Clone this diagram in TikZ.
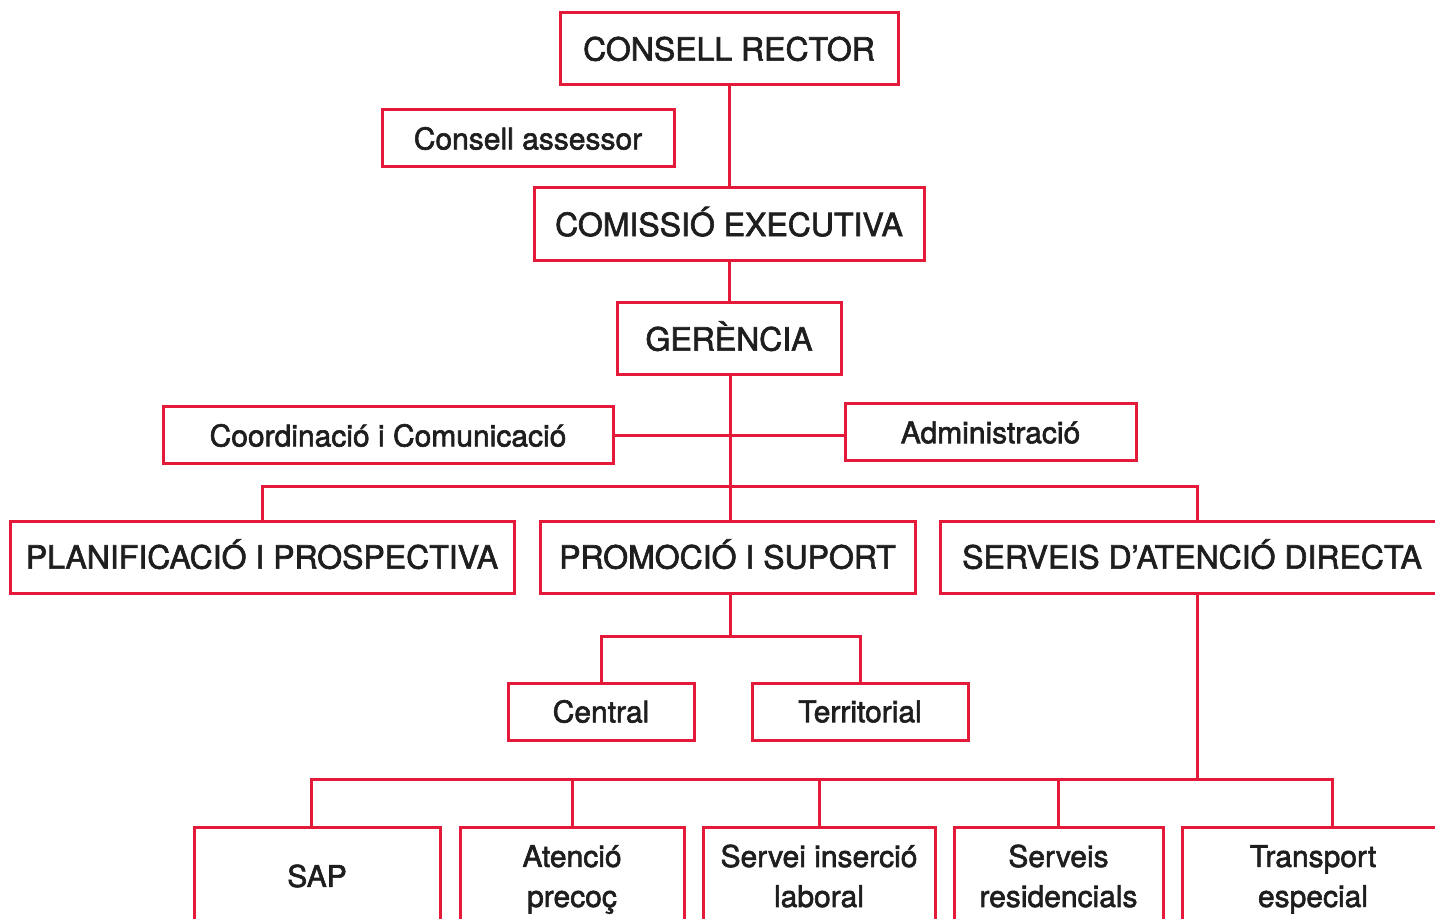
\documentclass[tikz,border=0pt]{standalone}
\usepackage{fontspec}
\setmainfont{TeX Gyre Heros}[FakeBold=2]
\definecolor{orgred}{RGB}{228,26,58}
\definecolor{orgtext}{RGB}{30,30,30}
\newcommand{\nodesc}[1]{\raisebox{0pt}[\height][0pt]{#1}}
\begin{document}
\begin{tikzpicture}[x=0.5pt,y=-0.5pt,
  orgbox/.style={draw=orgred,line width=1.5pt,fill=white,inner sep=0pt,text=orgtext,align=center},
  bigtxt/.style={font=\fontsize{16}{19}\selectfont,text height=11.6pt,text depth=0pt},
  smalltxt/.style={font=\fontsize{15}{20}\selectfont},
  link/.style={draw=orgred,line width=1.5pt}]
\useasboundingbox (0,0) rectangle (1435,919);
\coordinate (bus1) at (730,487);
\coordinate (pbus) at (730,636);
\coordinate (sbus) at (1197,779);
\node[orgbox,bigtxt,minimum width=169pt,minimum height=36pt] (rector) at (729,49) {CONSELL RECTOR};
\node[orgbox,smalltxt,minimum width=146pt,minimum height=28.5pt] (assessor) at (528,138.5) {Consell assessor};
\node[orgbox,bigtxt,minimum width=195pt,minimum height=36.5pt] (comissio) at (729,224.5) {COMISSIÓ EXECUTIVA};
\node[orgbox,bigtxt,minimum width=112pt,minimum height=36pt] (gerencia) at (729,339) {GERÈNCIA};
\node[orgbox,smalltxt,minimum width=225pt,minimum height=28.5pt] (coord) at (388,435.5) {Coordinació i Comunicació};
\node[orgbox,smalltxt,minimum width=145.5pt,minimum height=28.5pt] (admin) at (990.5,432.5) {Administració};
\node[orgbox,bigtxt,minimum width=252pt,minimum height=36pt] (plan) at (262,557) {PLANIFICACIÓ I PROSPECTIVA};
\node[orgbox,bigtxt,minimum width=187.5pt,minimum height=36pt] (promo) at (727.5,557) {PROMOCIÓ I SUPORT};
\node[orgbox,bigtxt,minimum width=252pt,minimum height=36pt] (serveis) at (1192,557) {SERVEIS D’ATENCIÓ DIRECTA};
\node[orgbox,smalltxt,minimum width=93pt,minimum height=28.5pt] (central) at (601,711.5) {Central};
\node[orgbox,smalltxt,minimum width=108pt,minimum height=28.5pt] (territorial) at (860,711.5) {Territorial};
\node[orgbox,smalltxt,minimum width=123pt,minimum height=49pt] (sap) at (317,876) {SAP};
\node[orgbox,smalltxt,minimum width=112pt,minimum height=49pt] (atencio) at (572,876) {Atenció\\\nodesc{precoç}};
\node[orgbox,smalltxt,minimum width=116pt,minimum height=49pt] (insercio) at (819,876) {Servei inserció\\laboral};
\node[orgbox,smalltxt,minimum width=104.5pt,minimum height=49pt] (resid) at (1058.5,876) {Serveis\\residencials};
\node[orgbox,smalltxt,minimum width=131pt,minimum height=49pt] (transport) at (1313,876) {Transport\\\nodesc{especial}};
\draw[link] (rector.south) -- (comissio.north);
\draw[link] (comissio.south) -- (gerencia.north);
\draw[link] (gerencia.south -| bus1) -- (bus1) -- (promo.north -| bus1);
\draw[link] (coord.east) -- (coord.east -| admin.west);
\draw[link] (plan.north) -- (plan.north |- bus1) -- ([xshift=2.5pt]serveis.north |- bus1) -- ([xshift=2.5pt]serveis.north);
\draw[link] (promo.south -| pbus) -- (pbus);
\draw[link] (central.north) -- (central.north |- pbus) -- (territorial.north |- pbus) -- (territorial.north);
\draw[link] (serveis.south -| sbus) -- (sbus);
\draw[link] ([xshift=-3pt]sap.north) -- ([xshift=-3pt]sap.north |- sbus) -- ([xshift=9.5pt]transport.north |- sbus) -- ([xshift=9.5pt]transport.north);
\draw[link] (atencio.north) -- (atencio.north |- sbus);
\draw[link] (insercio.north) -- (insercio.north |- sbus);
\draw[link] (resid.north) -- (resid.north |- sbus);
\end{tikzpicture}
\end{document}
